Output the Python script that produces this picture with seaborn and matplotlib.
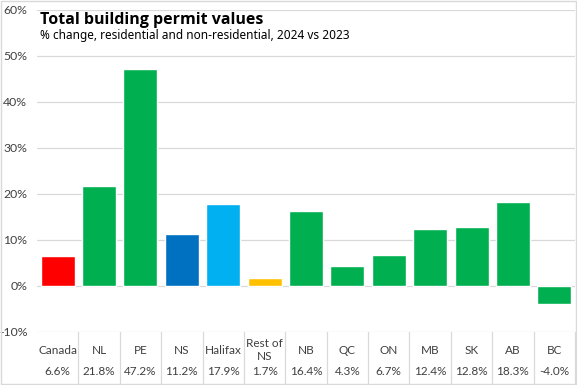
import numpy as np
import pandas as pd
import matplotlib.pyplot as plt
import matplotlib.patches as mpatches
import matplotlib.transforms as mtransforms
import seaborn as sns

sns.set_style('white')
plt.rcParams['font.family'] = ['Lato', 'DejaVu Sans']

regions = ['Canada', 'NL', 'PE', 'NS', 'Halifax', 'Rest of\nNS', 'NB', 'QC', 'ON', 'MB', 'SK', 'AB', 'BC']
pct_change = [6.6, 21.8, 47.2, 11.2, 17.9, 1.7, 16.4, 4.3, 6.7, 12.4, 12.8, 18.3, -4.0]
bar_colors = ['#FF0000', '#00B050', '#00B050', '#0070C0', '#00B0F0', '#FFC000',
              '#00B050', '#00B050', '#00B050', '#00B050', '#00B050', '#00B050', '#00B050']

df = pd.DataFrame({'region': regions, 'pct': pct_change})

fig = plt.figure(figsize=(5.77, 3.85), dpi=100)
ax = fig.add_axes([37/577, 1 - 332/385, (575-37)/577, 322/385])

sns.barplot(data=df, x='region', y='pct', hue='region', palette=bar_colors,
            legend=False, width=0.82, saturation=1, ax=ax)

ax.set_ylim(-10, 60)
ax.set_xlim(-0.5, len(regions) - 0.5)
ax.set_yticks(range(-10, 61, 10))
ax.set_yticklabels([f'{v}%' for v in range(-10, 61, 10)], fontsize=8.8, color='#404040')
ax.yaxis.grid(True, color='#D9D9D9', lw=0.9)
ax.set_axisbelow(True)
ax.tick_params(axis='y', length=0, pad=7)
ax.set_xticks([])
ax.set_xlabel('')
ax.set_ylabel('')
sns.despine(ax=ax, left=True, bottom=True)

# table under the bars
trans = mtransforms.blended_transform_factory(ax.transData, ax.transAxes)
for i, (r, v) in enumerate(zip(regions, pct_change)):
    ax.text(i, -0.056, r, transform=trans, ha='center', va='center',
            fontsize=8.5, color='#404040', linespacing=1.3)
    ax.text(i, -0.124, f'{v:.1f}%', transform=trans, ha='center', va='center',
            fontsize=8.5, color='#404040')
for i in range(len(regions)):
    ax.plot([i + 0.5, i + 0.5], [0, -0.17], transform=trans, color='#D9D9D9',
            lw=0.9, clip_on=False)

fig.text(40/577, 1 - 20/385, 'Total building permit values', fontsize=11.5,
         fontweight='bold', family=['Open Sans', 'DejaVu Sans'], color='black', va='center')
fig.text(40/577, 1 - 36/385, '% change, residential and non-residential, 2024 vs 2023',
         fontsize=8.5, family=['Noto Sans', 'DejaVu Sans'], color='black', va='center')

fig.patches.append(mpatches.Rectangle((0.001, 0.002), 0.997, 0.996, transform=fig.transFigure,
                                      fill=False, edgecolor='#D9D9D9', lw=1))

fig.savefig('out.png', dpi=100)
